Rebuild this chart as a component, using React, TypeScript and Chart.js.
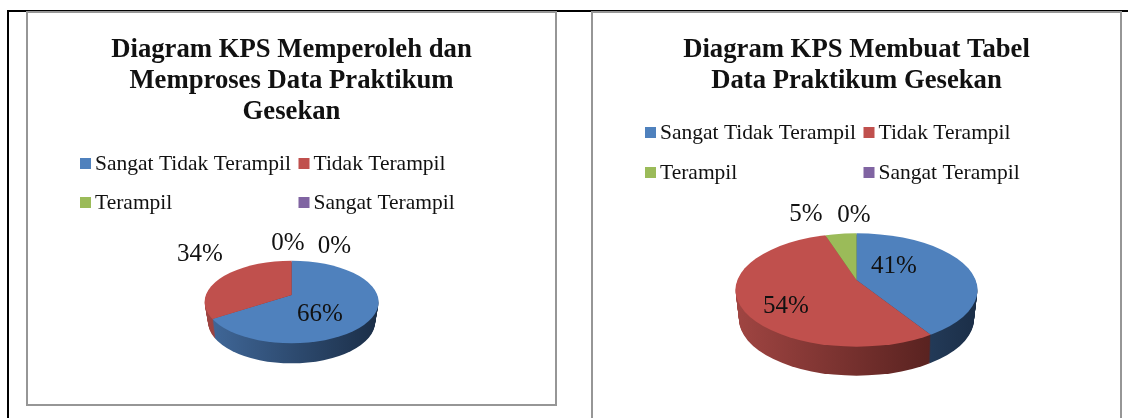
import React, { useEffect, useRef } from "react";
import { Chart, registerables } from "chart.js";

Chart.register(...registerables);

const categories = ["Sangat Tidak Terampil", "Tidak Terampil", "Terampil", "Sangat Terampil"];
const seriesA = [66, 34, 0, 0];
const seriesB = [41, 54, 5, 0];
const titleA = ["Diagram KPS Memperoleh dan", "Memproses Data Praktikum", "Gesekan"];
const titleB = ["Diagram KPS Membuat Tabel", "Data Praktikum Gesekan"];

const COLORS = ["#4F81BD", "#C0504D", "#9BBB59", "#8064A2"];
const WALL: [string, string][] = [
  ["#41699B", "#1B2E47"],
  ["#A04542", "#481A18"],
  ["#7F9A49", "#3F4D22"],
  ["#6A5386", "#32263F"],
];
const SERIF = "'Liberation Serif', 'Times New Roman', serif";

type Panel = {
  rect: { x: number; y: number; w: number; h: number };
  title: string[];
  titleTop: number;
  data: number[];
  cx: number; cy: number; rx: number; ry: number; apexY: number; depth: number;
  legendX: [number, number];
  legendY: [number, number];
  labelPos: [number, number][];
};

const panels: Panel[] = [
  {
    rect: { x: 27, y: 13, w: 529, h: 392 },
    title: titleA, titleTop: 22, data: seriesA,
    cx: 291.6, cy: 302, rx: 87, ry: 41.3, apexY: 295, depth: 20,
    legendX: [80, 298.5], legendY: [164, 203],
    labelPos: [[320, 314], [200, 254], [288, 243], [334.5, 246]],
  },
  {
    rect: { x: 592, y: 13, w: 529, h: 405 },
    title: titleB, titleTop: 22, data: seriesB,
    cx: 856.5, cy: 290, rx: 121, ry: 56.7, apexY: 280, depth: 29,
    legendX: [645, 863.5], legendY: [133, 173],
    labelPos: [[894, 266], [786, 306], [806, 214], [854, 215]],
  },
];

function makePlugin(p: Panel) {
  const ox = p.rect.x, oy = p.rect.y;
  const cx = p.cx - ox, cy = p.cy - oy, ay = p.apexY - oy;
  const s = p.ry / p.rx;
  const BIG = 1.5;
  return {
    id: "pie3d",
    beforeDatasetsDraw(chart: any) {
      const ctx = chart.ctx as CanvasRenderingContext2D;
      const arcs = chart.getDatasetMeta(0).data;
      // extruded wall, drawn per slice from the arc's own angles
      for (let d = p.depth; d >= 1; d--) {
        const shrink = (d / p.depth) * 3.5;
        arcs.forEach((arc: any, i: number) => {
          if (arc.endAngle - arc.startAngle <= 0) return;
          const g = ctx.createLinearGradient(cx - p.rx, 0, cx + p.rx, 0);
          g.addColorStop(0, WALL[i][0]);
          g.addColorStop(1, WALL[i][1]);
          ctx.save();
          ctx.beginPath();
          ctx.ellipse(cx, cy + d, p.rx - shrink, p.ry, 0, 0, Math.PI * 2);
          ctx.clip();
          ctx.beginPath();
          ctx.moveTo(cx, ay + d);
          ctx.ellipse(cx, ay + d, p.rx * BIG, p.ry * BIG, 0, arc.startAngle, arc.endAngle);
          ctx.closePath();
          ctx.fillStyle = g;
          ctx.fill();
          ctx.restore();
        });
      }
      // top face: the library's arcs, flattened and clipped to the ellipse
      const a0 = arcs[0];
      const f = (p.rx * BIG) / a0.outerRadius;
      ctx.save();
      ctx.beginPath();
      ctx.ellipse(cx, cy, p.rx, p.ry, 0, 0, Math.PI * 2);
      ctx.clip();
      ctx.translate(cx, ay);
      ctx.scale(f, f * s);
      ctx.translate(-a0.x, -a0.y);
    },
    afterDatasetsDraw(chart: any) {
      const ctx = chart.ctx as CanvasRenderingContext2D;
      ctx.restore();
      ctx.save();
      ctx.fillStyle = "#111";
      ctx.textBaseline = "middle";
      // legend
      ctx.font = `21.5px ${SERIF}`;
      chart.data.labels.forEach((label: string, i: number) => {
        const lx = p.legendX[i % 2] - ox;
        const ly = p.legendY[Math.floor(i / 2)] - oy;
        ctx.fillStyle = COLORS[i];
        ctx.fillRect(lx, ly - 6, 11, 11);
        ctx.fillStyle = "#111";
        ctx.textAlign = "left";
        ctx.fillText(label, lx + 15, ly);
      });
      // data labels
      ctx.font = `25px ${SERIF}`;
      ctx.textAlign = "center";
      chart.data.datasets[0].data.forEach((v: number, i: number) => {
        const [lx, ly] = p.labelPos[i];
        ctx.fillText(`${v}%`, lx - ox, ly - oy);
      });
      ctx.restore();
    },
  };
}

function PieCanvas({ panel }: { panel: Panel }) {
  const ref = useRef<HTMLCanvasElement>(null);
  useEffect(() => {
    const chart = new Chart(ref.current!, {
      type: "pie",
      data: {
        labels: categories,
        datasets: [{ data: panel.data, backgroundColor: COLORS, borderWidth: 0 }],
      },
      options: {
        animation: false,
        responsive: false,
        layout: { padding: 0 },
        plugins: {
          legend: { display: false },
          tooltip: { enabled: false },
          title: {
            display: true,
            text: panel.title,
            color: "#111",
            font: { family: SERIF, size: 26.7, weight: "bold", lineHeight: 31 / 26.7 },
            padding: { top: panel.titleTop, bottom: 10 },
          },
        },
      },
      plugins: [makePlugin(panel)],
    } as any);
    return () => chart.destroy();
  }, [panel]);
  const r = panel.rect;
  return (
    <canvas
      ref={ref}
      width={r.w}
      height={r.h}
      style={{ position: "absolute", left: r.x, top: r.y, width: r.w, height: r.h }}
    />
  );
}

const abs = (x: number, y: number, w: number, h: number, bg: string): React.CSSProperties => ({
  position: "absolute", left: x, top: y, width: w, height: h, background: bg,
});

const GRAY = "#969696";

export default function App() {
  return (
    <div style={{ position: "fixed", left: 0, top: 0, width: 1128, height: 418, background: "#fff", overflow: "hidden", filter: "blur(0.4px)" }}>
      <div style={abs(7, 10, 1121, 2, "#000")} />
      <div style={abs(7, 10, 2, 408, "#000")} />
      <div style={abs(25.5, 11, 2, 395, GRAY)} />
      <div style={abs(25.5, 11, 531, 2, GRAY)} />
      <div style={abs(554.5, 11, 2, 395, GRAY)} />
      <div style={abs(25.5, 404, 531, 2, GRAY)} />
      <div style={abs(590.5, 11, 2, 407, GRAY)} />
      <div style={abs(590.5, 11, 531, 2, GRAY)} />
      <div style={abs(1119.5, 11, 2, 407, GRAY)} />
      {panels.map((p, i) => <PieCanvas key={i} panel={p} />)}
    </div>
  );
}
